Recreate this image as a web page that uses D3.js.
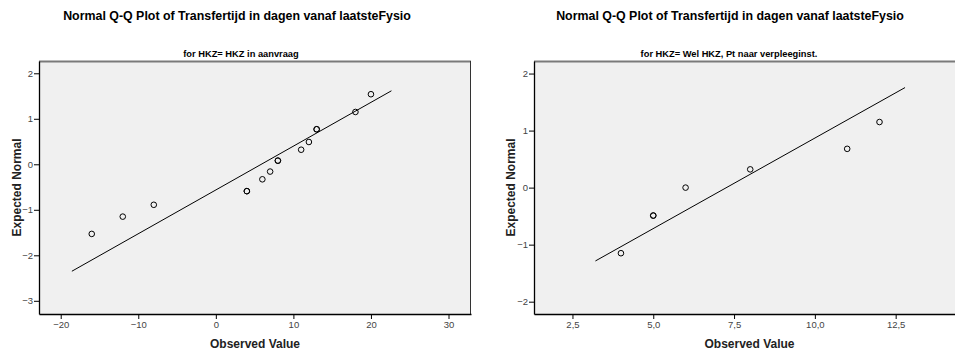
<!DOCTYPE html>
<html><head><meta charset="utf-8">
<script src="https://cdn.jsdelivr.net/npm/d3@7"></script>
<style>
body{margin:0;background:#fff;}
svg{display:block;font-family:"Liberation Sans",Arial,sans-serif;}
</style></head>
<body><svg id="c" width="955" height="354"></svg>
<script>
const mainTitle = "Normal Q-Q Plot of Transfertijd in dagen vanaf laatsteFysio";
const subTitles = ["for HKZ= HKZ in aanvraag", "for HKZ= Wel HKZ, Pt naar verpleeginst."];
const xLabel = "Observed Value";
const yLabel = "Expected Normal";

// Panel 1: observed values and expected normal values
const obs1 = [-16, -12, -8, 4, 4, 6, 7, 8, 8, 11, 12, 13, 13, 18, 20];
const exp1 = [-1.53, -1.15, -0.89, -0.59, -0.59, -0.33, -0.16, 0.08, 0.08, 0.32, 0.49, 0.77, 0.77, 1.15, 1.54];
const line1X = [-18.56, 22.64];
const line1Y = [-2.35, 1.615];
const xTicks1 = [-20, -10, 0, 10, 20, 30];
const yTicks1 = [-3, -2, -1, 0, 1, 2];
const xDomain1 = [-22.8, 32.9];
const yDomain1 = [-3.29, 2.27];

// Panel 2
const obs2 = [4, 5, 5, 6, 8, 11, 12];
const exp2 = [-1.15, -0.49, -0.49, 0.0, 0.32, 0.68, 1.15];
const line2X = [3.21, 12.79];
const line2Y = [-1.286, 1.754];
const xTicks2 = [2.5, 5.0, 7.5, 10.0, 12.5];
const yTicks2 = [-2, -1, 0, 1, 2];
const xDomain2 = [1.31, 14.8];
const yDomain2 = [-2.216, 2.22];

const svg = d3.select("#c");
const fmtComma = d => d3.format(".1f")(d).replace(".", ",");

function panel(cfg){
  const g = svg.append("g");
  const x = d3.scaleLinear().domain(cfg.xDomain).range([cfg.left, cfg.right]);
  const y = d3.scaleLinear().domain(cfg.yDomain).range([cfg.bottom, cfg.top]);
  g.append("rect").attr("x", cfg.left).attr("y", cfg.top)
    .attr("width", cfg.right - cfg.left).attr("height", cfg.bottom - cfg.top)
    .attr("fill", "#f0f0f0").attr("stroke", "none");
  g.append("line").attr("x1", cfg.left).attr("x2", cfg.right).attr("y1", cfg.top+0.5).attr("y2", cfg.top+0.5)
    .attr("stroke", "#7a7a7a").attr("stroke-width", 2);
  g.append("line").attr("x1", cfg.right-0.5).attr("x2", cfg.right-0.5).attr("y1", cfg.top).attr("y2", cfg.bottom)
    .attr("stroke", "#333").attr("stroke-width", 1);

  const clipId = "clip" + cfg.id;
  svg.append("clipPath").attr("id", clipId).append("rect")
    .attr("x", cfg.left).attr("y", cfg.top).attr("width", cfg.right - cfg.left).attr("height", cfg.bottom - cfg.top);

  const xa = g.append("g").attr("transform", `translate(0,${cfg.bottom})`)
    .call(d3.axisBottom(x).tickValues(cfg.xTicks).tickSize(5).tickSizeOuter(0).tickPadding(2).tickFormat(cfg.xFmt));
  const ya = g.append("g").attr("transform", `translate(${cfg.left},0)`)
    .call(d3.axisLeft(y).tickValues(cfg.yTicks).tickSize(5).tickSizeOuter(0).tickPadding(1).tickFormat(d3.format("d")));
  [xa, ya].forEach(a => {
    a.select(".domain").attr("stroke", "#000").attr("stroke-width", 1.3);
    a.selectAll(".tick line").attr("stroke", "#000");
    a.selectAll(".tick text").attr("fill", "#444").style("font-size", "9.5px")
      .style("font-family", '"Liberation Sans",Arial,sans-serif');
  });

  const plot = g.append("g").attr("clip-path", `url(#${clipId})`);
  plot.append("line")
    .attr("x1", x(cfg.lineX[0])).attr("y1", y(cfg.lineY[0]))
    .attr("x2", x(cfg.lineX[1])).attr("y2", y(cfg.lineY[1]))
    .attr("stroke", "#000").attr("stroke-width", 1);
  plot.selectAll("circle").data(cfg.obs).join("circle")
    .attr("cx", d => x(d)).attr("cy", (d, i) => y(cfg.exp[i]))
    .attr("r", 2.8).attr("fill", "none").attr("stroke", "#000").attr("stroke-width", 1);

  svg.append("text").attr("x", cfg.titleX).attr("y", 20).attr("text-anchor", "middle")
    .style("font-weight", "bold").style("font-size", "12.4px").attr("fill", "#000").text(mainTitle);
  svg.append("text").attr("x", cfg.subX).attr("y", 57).attr("text-anchor", "middle")
    .style("font-weight", "bold").style("font-size", "9.3px").attr("fill", "#000").text(cfg.sub);
  svg.append("text").attr("x", cfg.xLabX).attr("y", 348).attr("text-anchor", "middle")
    .style("font-weight", "bold").style("font-size", "12px").attr("fill", "#222").text(xLabel);
  svg.append("text").attr("transform", `translate(${cfg.yLabX},${(cfg.top+cfg.bottom)/2}) rotate(-90)`)
    .attr("text-anchor", "middle")
    .style("font-weight", "bold").style("font-size", "12px").attr("fill", "#222").text(yLabel);
}

panel({id:1, left:39, right:471, top:61, bottom:314, xDomain:xDomain1, yDomain:yDomain1,
  xTicks:xTicks1, yTicks:yTicks1, xFmt:d3.format("d"), obs:obs1, exp:exp1, lineX:line1X, lineY:line1Y,
  titleX:237, subX:241, sub:subTitles[0], xLabX:255, yLabX:21});
panel({id:2, left:534, right:970, top:61, bottom:314, xDomain:xDomain2, yDomain:yDomain2,
  xTicks:xTicks2, yTicks:yTicks2, xFmt:fmtComma, obs:obs2, exp:exp2, lineX:line2X, lineY:line2Y,
  titleX:730, subX:729, sub:subTitles[1], xLabX:749.5, yLabX:515});
</script></body></html>
